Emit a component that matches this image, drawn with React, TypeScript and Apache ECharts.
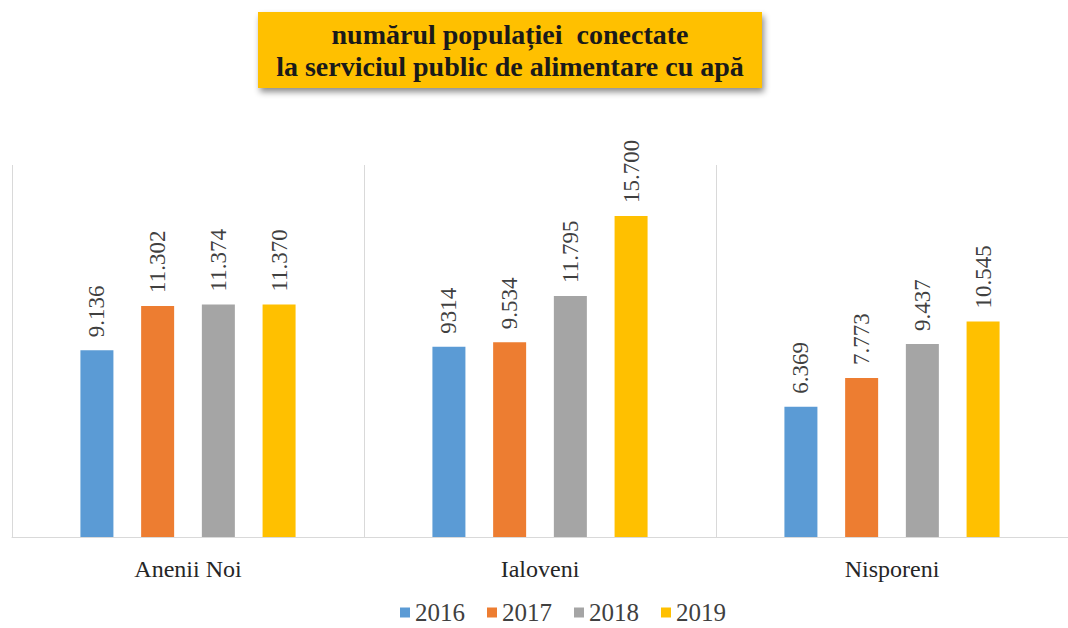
import React, { useEffect, useRef } from "react";
import * as echarts from "echarts";

const categories = ["Anenii Noi", "Ialoveni", "Nisporeni"];
const years = ["2016", "2017", "2018", "2019"];
const values2016 = [9136, 9314, 6369];
const values2017 = [11302, 9534, 7773];
const values2018 = [11374, 11795, 9437];
const values2019 = [11370, 15700, 10545];
const labels2016 = ["9.136", "9314", "6.369"];
const labels2017 = ["11.302", "9.534", "7.773"];
const labels2018 = ["11.374", "11.795", "9.437"];
const labels2019 = ["11.370", "15.700", "10.545"];
const colors = ["#5B9BD5", "#ED7D31", "#A5A5A5", "#FFC000"];
const titleText = "numărul populației  conectate\nla serviciul public de alimentare cu apă";

const FONT = "Liberation Serif";

export default function App() {
  const ref = useRef<HTMLDivElement>(null);
  useEffect(() => {
    if (!ref.current) return;
    const chart = echarts.init(ref.current, null, { renderer: "svg" });
    const seriesValues = [values2016, values2017, values2018, values2019];
    const seriesLabels = [labels2016, labels2017, labels2018, labels2019];
    chart.setOption({
      animation: false,
      backgroundColor: "#ffffff",
      textStyle: { fontFamily: FONT, fontWeight: "normal" },
      graphic: [
        {
          type: "rect",
          shape: { x: 258, y: 12, width: 504, height: 76 },
          style: {
            fill: "#FFC000",
            shadowBlur: 6,
            shadowOffsetX: 2,
            shadowOffsetY: 4,
            shadowColor: "rgba(0,0,0,0.45)",
          },
          z: 10,
        },
        {
          type: "text",
          x: 510,
          y: 50,
          z: 11,
          style: {
            text: titleText,
            fontFamily: FONT,
            fontSize: 28,
            fontWeight: "bold",
            fill: "#1a1a1a",
            align: "center",
            verticalAlign: "middle",
            lineHeight: 32,
          },
        },
      ],
      legend: {
        data: years,
        left: 400,
        top: 600,
        padding: 0,
        itemWidth: 10,
        itemHeight: 10,
        itemGap: 22,
        icon: "rect",
        textStyle: { fontFamily: FONT, fontWeight: "normal", fontSize: 25, color: "#404040" },
      },
      grid: { left: 12, top: 165, width: 1059, height: 372 },
      xAxis: {
        type: "category",
        data: categories,
        axisLine: { show: true, lineStyle: { color: "#d9d9d9", width: 1 } },
        axisTick: { show: false },
        splitLine: { show: true, lineStyle: { color: "#d9d9d9", width: 1 } },
        axisLabel: {
          fontFamily: FONT,
          fontWeight: "normal",
          fontSize: 24,
          color: "#262626",
          margin: 20,
        },
      },
      yAxis: {
        type: "value",
        min: 0,
        max: 18200,
        show: false,
        splitLine: { show: false },
      },
      series: years.map((y, i) => ({
        name: y,
        type: "bar",
        data: seriesValues[i],
        barWidth: 33,
        barGap: "84%",
        itemStyle: { color: colors[i] },
        label: {
          show: true,
          position: "top",
          rotate: 90,
          align: "left",
          verticalAlign: "middle",
          distance: 13,
          fontFamily: FONT,
          fontWeight: "normal",
          fontSize: 23,
          color: "#404040",
          formatter: (p: any) => seriesLabels[i][p.dataIndex],
        },
      })),
    });
    return () => chart.dispose();
  }, []);
  return (
    <div
      ref={ref}
      style={{ position: "absolute", left: 0, top: 0, width: 1068, height: 628, background: "#fff" }}
    />
  );
}
